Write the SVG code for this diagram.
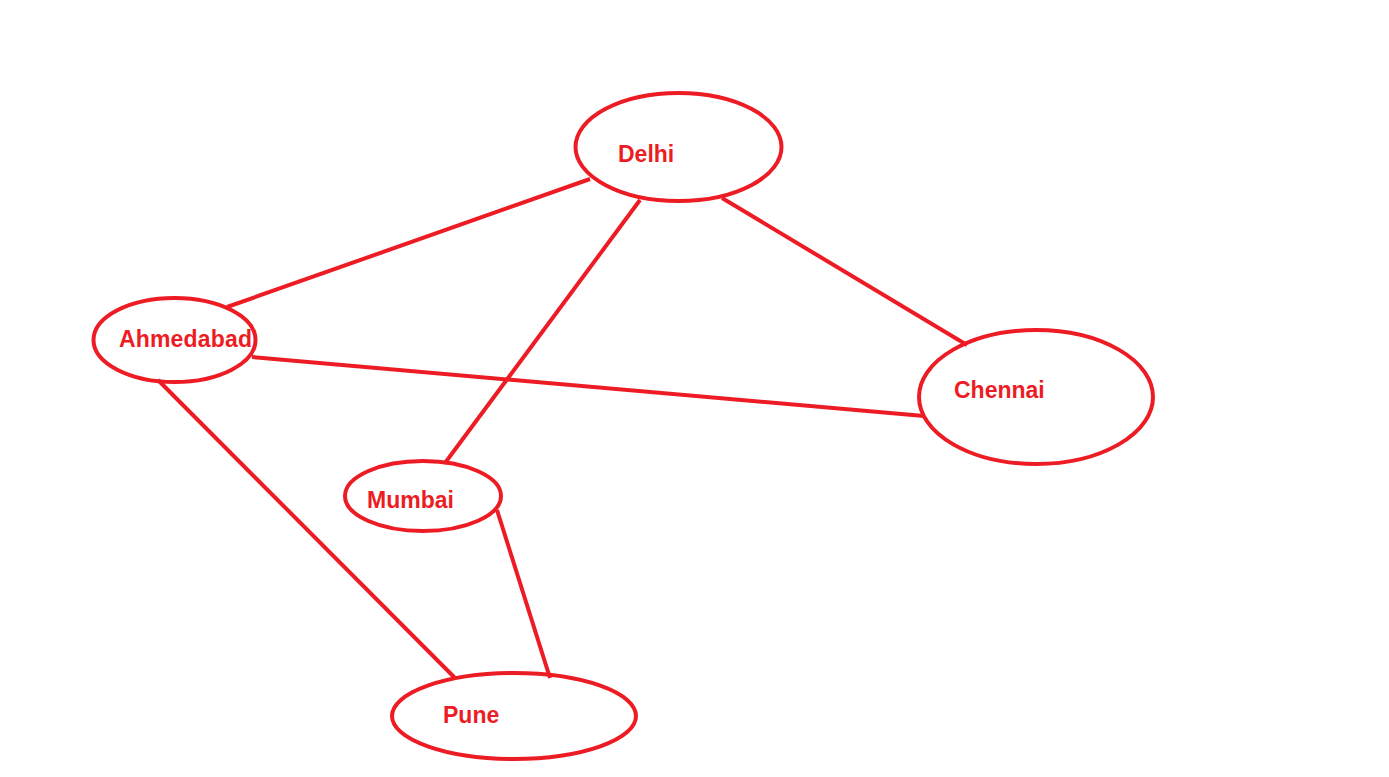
<svg xmlns="http://www.w3.org/2000/svg" width="1389" height="777" viewBox="0 0 1389 777">
<style>
.n{fill:none;stroke:#ED1C24;stroke-width:4}
.e{stroke:#ED1C24;stroke-width:4;fill:none}
.t{font-family:"Liberation Sans",Arial,sans-serif;font-weight:bold;font-size:23px;fill:#ED1C24}
</style>
<rect width="1389" height="777" fill="#fff"/>
<g id="connectors">
<line class="e" x1="590" y1="179" x2="227" y2="307"/>
<line class="e" x1="640" y1="200" x2="445" y2="463"/>
<line class="e" x1="722" y1="198" x2="967" y2="345"/>
<line class="e" x1="252" y1="357" x2="924" y2="416"/>
<line class="e" x1="158" y1="380" x2="455" y2="678"/>
<line class="e" x1="497" y1="510" x2="550" y2="678"/>
</g>
<g id="delhi"><ellipse class="n" cx="678.5" cy="147" rx="103" ry="54"/><text class="t" x="618" y="162">Delhi</text></g>
<g id="ahmedabad"><ellipse class="n" cx="174.5" cy="340" rx="81" ry="42"/><text class="t" x="119" y="347" textLength="133">Ahmedabad</text></g>
<g id="mumbai"><ellipse class="n" cx="423" cy="496" rx="78" ry="35"/><text class="t" x="367" y="508">Mumbai</text></g>
<g id="pune"><ellipse class="n" cx="514" cy="716" rx="122" ry="43"/><text class="t" x="443" y="723">Pune</text></g>
<g id="chennai"><ellipse class="n" cx="1036" cy="397" rx="117" ry="67"/><text class="t" x="954" y="398">Chennai</text></g>
</svg>
